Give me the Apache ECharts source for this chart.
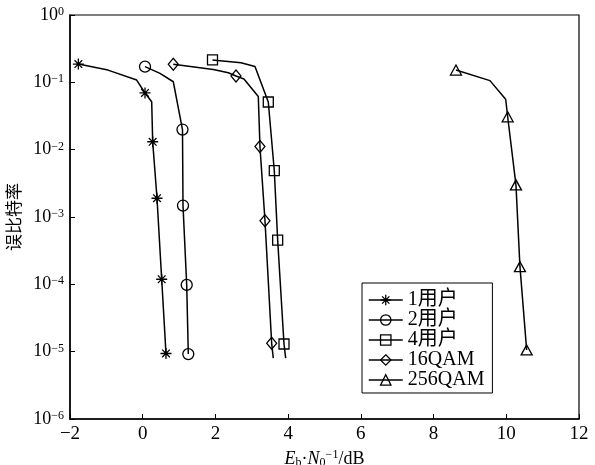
<!DOCTYPE html>
<html>
<head>
<meta charset="utf-8">
<script src="https://cdn.jsdelivr.net/npm/echarts@6/dist/echarts.min.js"></script>
<style>
  html, body { margin: 0; padding: 0; background: #fff; }
  #chart { width: 595px; height: 465px; }
</style>
</head>
<body>
<div id="chart"></div>
<script>
  // ---------------- data ----------------
  // 1 = point drawn with a marker, 0 = plain vertex of the curve
  var names = ['1用户', '2用户', '4用户', '16QAM', '256QAM'];

  var xUser1 = [-1.77, -0.955, -0.166, 0.063, 0.247, 0.274, 0.393, 0.522, 0.64];
  var yUser1 = [0.187, 0.152, 0.108, 0.0695, 0.0516, 0.0131, 0.0019, 1.19e-4, 9.4e-6];
  var mUser1 = [1, 0, 0, 1, 0, 1, 1, 1, 1];

  var xUser2 = [0.063, 0.475, 0.841, 1.094, 1.108, 1.21, 1.254];
  var yUser2 = [0.171, 0.136, 0.102, 0.0199, 0.00148, 9.8e-5, 9.2e-6];
  var mUser2 = [1, 0, 0, 1, 1, 1, 1];

  var xUser4 = [1.919, 2.703, 3.088, 3.454, 3.619, 3.712, 3.886, 3.932];
  var yUser4 = [0.215, 0.196, 0.172, 0.051, 0.00487, 4.55e-4, 1.3e-5, 8e-6];
  var mUser4 = [1, 0, 0, 1, 1, 1, 1, 0];

  var xQam16 = [0.841, 1.941, 2.354, 2.566, 2.785, 3.179, 3.225, 3.363, 3.547, 3.591];
  var yQam16 = [0.185, 0.155, 0.139, 0.124, 0.112, 0.0616, 0.0111, 8.8e-4, 1.33e-5, 8e-6];
  var mQam16 = [1, 0, 0, 1, 0, 0, 1, 1, 1, 0];

  var xQam256 = [8.616, 9.551, 9.983, 10.038, 10.266, 10.376, 10.56];
  var yQam256 = [0.152, 0.106, 0.056, 0.0308, 0.003, 1.83e-4, 1.06e-5];
  var mQam256 = [1, 0, 0, 1, 1, 1, 1];

  // ---------------- styling ----------------
  var serif = "'Liberation Serif', 'Times New Roman', 'Noto Sans CJK SC', serif";
  var cjk = "'Noto Sans CJK SC', sans-serif";
  var starPath = 'path://M5,0L5,10M0,5L10,5M1.5,1.5L8.5,8.5M1.5,8.5L8.5,1.5';

  function pts(xs, ys, ms){
    return xs.map(function(x, i){
      return ms[i] ? [x, ys[i]] : { value: [x, ys[i]], symbol: 'none' };
    });
  }
  function mkSeries(name, data, symbol, size){
    return {
      name: name, type: 'line', data: data,
      symbol: symbol, symbolSize: size, showSymbol: true, showAllSymbol: true,
      lineStyle: { color: '#000', width: 1.5 },
      itemStyle: { color: 'transparent', borderColor: '#000', borderWidth: 1.3 },
      emphasis: { disabled: true }
    };
  }
  function supLabel(v){
    var e = Math.round(Math.log(v) / Math.LN10);
    return '{b|10}{s|' + (e < 0 ? '−' + (-e) : e) + '}';
  }

  var chart = echarts.init(document.getElementById('chart'));
  var option = {
    animation: false,
    backgroundColor: '#fff',
    grid: {
      left: 70, right: 16, top: 15, bottom: 46, containLabel: false, outerBoundsMode: 'none',
      show: true, borderColor: '#000', borderWidth: 1.2
    },
    legend: {
      orient: 'vertical', left: 362, top: 283,
      data: names,
      backgroundColor: '#fff', borderColor: '#000', borderWidth: 1,
      padding: [7, 8, 3, 6], itemGap: 0, itemWidth: 34, itemHeight: 13,
      textStyle: { fontFamily: serif, fontSize: 20, color: '#000', lineHeight: 18 },
      lineStyle: { color: '#000', width: 1.5 },
      itemStyle: { color: 'transparent', borderColor: '#000', borderWidth: 1.3 }
    },
    xAxis: {
      type: 'value', min: -2, max: 12, interval: 2,
      name: '{i|E}{sub|b}{t|·}{i|N}{sub|0}{sup|−1}{t|/dB}',
      nameLocation: 'middle', nameGap: 26,
      nameTextStyle: {
        rich: {
          t: { fontFamily: serif, fontSize: 18, color: '#000' },
          i: { fontFamily: serif, fontSize: 18, fontStyle: 'italic', color: '#000' },
          sub: { fontFamily: serif, fontSize: 12, color: '#000', verticalAlign: 'bottom', padding: [8, 0, 0, 0] },
          sup: { fontFamily: serif, fontSize: 12, color: '#000', verticalAlign: 'top', padding: [0, 0, 8, 0] }
        }
      },
      axisLine: { onZero: false, lineStyle: { color: '#000', width: 1.5 } },
      axisTick: { inside: true, length: 5, lineStyle: { color: '#000' } },
      axisLabel: {
        margin: 6, color: '#000', fontFamily: serif, fontSize: 19,
        formatter: function(v){ return v < 0 ? '−' + (-v) : String(v); }
      },
      splitLine: { show: false }
    },
    yAxis: {
      type: 'log', logBase: 10, min: 1e-6, max: 1,
      name: '误比特率', nameLocation: 'middle', nameGap: 44, nameRotate: 90,
      nameTextStyle: { fontFamily: cjk, fontSize: 17, color: '#000' },
      axisLine: { onZero: false, lineStyle: { color: '#000', width: 1.5 } },
      axisTick: { inside: true, length: 5, lineStyle: { color: '#000' } },
      axisLabel: {
        margin: 6, color: '#000', formatter: supLabel,
        rich: {
          b: { fontFamily: serif, fontSize: 18, color: '#000' },
          s: { fontFamily: serif, fontSize: 12, color: '#000', verticalAlign: 'top', padding: [0, 0, 6, 0] }
        }
      },
      minorTick: { show: false },
      splitLine: { show: false }
    },
    series: [
      mkSeries(names[0], pts(xUser1, yUser1, mUser1), starPath, 11),
      mkSeries(names[1], pts(xUser2, yUser2, mUser2), 'circle', 11),
      mkSeries(names[2], pts(xUser4, yUser4, mUser4), 'rect', 10),
      mkSeries(names[3], pts(xQam16, yQam16, mQam16), 'diamond', [10, 12]),
      mkSeries(names[4], pts(xQam256, yQam256, mQam256), 'triangle', [11, 10])
    ]
  };
  chart.setOption(option);
</script>
</body>
</html>
